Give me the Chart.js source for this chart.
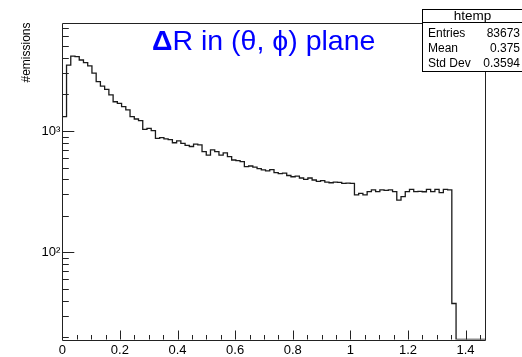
<!DOCTYPE html>
<html>
<head>
<meta charset="utf-8">
<script src="https://cdn.jsdelivr.net/npm/chart.js@4.4.0/dist/chart.umd.min.js"></script>
<style>
  html, body { margin: 0; padding: 0; background: #fff; }
  #wrap { position: relative; width: 522px; height: 357px; overflow: hidden; }
  #c { position: absolute; left: 0; top: 0; }
  #title { position: absolute; left: 152px; top: 24px; font-family: "Liberation Sans", Arial, sans-serif;
           font-size: 28.5px; color: #0000ff; white-space: nowrap; line-height: 33px; }
  #stats { position: absolute; left: 422px; top: 9px; width: 101px; height: 63px; box-sizing: border-box;
           border: 1px solid #000; background: #fff; font-family: "Liberation Sans", Arial, sans-serif; color: #000; }
  #stats .t { height: 12px; line-height: 12px; text-align: center; font-size: 13.5px; border-bottom: 1px solid #000; }
  #stats .body { padding-top: 2.5px; }
  #stats .r { display: flex; justify-content: space-between; height: 15px; line-height: 15px; font-size: 12px;
              padding: 0 2px 0 5px; }
</style>
</head>
<body>
<div id="wrap">
  <canvas id="c" width="522" height="357"></canvas>
  <div id="title"><b>Δ</b>R in (θ, ϕ) plane</div>
  <div id="stats"></div>
</div>
<script>
// ---- data ----
const histName = "htemp";
const xMin = 0;
const xMax = 1.47;
const nBins = 100;
const counts = [
  1311, 3490, 4140, 4090, 3840, 3650, 3430, 2990, 2545, 2345,
  2200, 1980, 1740, 1690, 1585, 1490, 1311, 1255, 1215, 1032,
  1052, 1006,  870,  881,  860,  850,  800,  830,  790,  760,
   745,  780,  770,  675,  634,  700,  675,  634,  660,  615,
   577,  570,  560,  509,  515,  505,  490,  478,  470,  480,
   455,  445,  450,  430,  420,  425,  410,  400,  410,  395,
   385,  390,  380,  375,  380,  378,  371,  372,  370,  298,
   307,  298,  317,  327,  317,  327,  325,  327,  317,  270,
   288,  317,  330,  317,  318,  316,  330,  317,  330,  311,
   330,  328,   38,    0,    0,    0,    0,    0,    0,    0
];
const xTickValues = [0,0.05,0.1,0.15,0.2,0.25,0.3,0.35,0.4,0.45,0.5,0.55,0.6,0.65,0.7,0.75,0.8,0.85,0.9,0.95,1,1.05,1.1,1.15,1.2,1.25,1.3,1.35,1.4,1.45];
const xTickLabels = {"0":"0","0.2":"0.2","0.4":"0.4","0.6":"0.6","0.8":"0.8","1":"1","1.2":"1.2","1.4":"1.4"};
const yTickValues = [20,30,40,50,60,70,80,90,100,200,300,400,500,600,700,800,900,1000,2000,3000,4000,5000,6000,7000];
const yTickLabels = {"100":"10²","1000":"10³"};
const yMin = 19.2;
const yMax = 7820;
const yTitle = "#emissions";
const statsRows = [["Entries","83673"],["Mean","0.375"],["Std Dev","0.3594"]];

// ---- stats box (text) ----
const sb = document.getElementById('stats');
const t = document.createElement('div'); t.className = 't'; t.textContent = histName; sb.appendChild(t);
const body = document.createElement('div'); body.className = 'body'; sb.appendChild(body);
statsRows.forEach(([k, v]) => {
  const r = document.createElement('div'); r.className = 'r';
  const a = document.createElement('span'); a.textContent = k;
  const b = document.createElement('span'); b.textContent = v;
  r.appendChild(a); r.appendChild(b); body.appendChild(r);
});

// ---- histogram as stepped line: one point per bin low edge, plus the upper edge ----
const binW = (xMax - xMin) / nBins;
const points = counts.map((c, i) => ({ x: xMin + i * binW, y: c }));
points.push({ x: xMax, y: counts[counts.length - 1] });

const FONT = '"Liberation Sans", Arial, sans-serif';
const keyOf = v => String(Math.round(v * 1000) / 1000);

// Empty bins on a log axis are drawn on the frame bottom (as ROOT does)
const emptyBinsOnFloor = {
  id: 'emptyBinsOnFloor',
  afterDatasetsUpdate(chart) {
    const meta = chart.getDatasetMeta(0);
    const ys = chart.scales.y;
    const floor = ys.getPixelForValue(ys.min);
    meta.data.forEach((p, i) => {
      if (points[i] && points[i].y === 0) { p.y = floor; p.skip = false; }
    });
    meta.dataset.points = meta.data;
  }
};

const rootTicks = {
  id: 'rootTicks',
  afterDatasetsDraw(chart) {
    const { ctx, chartArea: a, scales: { x, y } } = chart;
    ctx.save();
    ctx.strokeStyle = '#222';
    ctx.lineWidth = 1;
    ctx.beginPath();
    x.ticks.forEach(tk => {
      const px = Math.round(x.getPixelForValue(tk.value)) + 0.5;
      const len = xTickLabels[keyOf(tk.value)] !== undefined ? 9 : 4.5;
      ctx.moveTo(px, a.bottom); ctx.lineTo(px, a.bottom - len);
    });
    y.ticks.forEach(tk => {
      const py = Math.round(y.getPixelForValue(tk.value)) + 0.5;
      const len = yTickLabels[keyOf(tk.value)] !== undefined ? 12 : 6.5;
      ctx.moveTo(a.left, py); ctx.lineTo(a.left + len, py);
    });
    ctx.stroke();
    ctx.beginPath();
    ctx.rect(Math.round(a.left) + 0.5, Math.round(a.top) + 0.5, Math.round(a.right - a.left), Math.round(a.bottom - a.top));
    ctx.stroke();
    ctx.restore();
  }
};

new Chart(document.getElementById('c'), {
  type: 'line',
  data: {
    datasets: [{
      data: points,
      stepped: 'before',
      borderColor: '#1a1a1a',
      borderWidth: 1.3,
      pointRadius: 0,
      fill: false,
      tension: 0
    }]
  },
  options: {
    responsive: false,
    animation: false,
    events: [],
    layout: { padding: { top: 22.5, right: 36.3, left: 0, bottom: 0 } },
    plugins: { legend: { display: false }, tooltip: { enabled: false }, title: { display: false } },
    scales: {
      x: {
        type: 'linear',
        min: xMin, max: xMax,
        grid: { display: false, drawTicks: false },
        border: { display: false },
        afterBuildTicks: s => { s.ticks = xTickValues.map(v => ({ value: v })); },
        afterFit: s => { s.height = 17.5; },
        ticks: {
          autoSkip: false, maxRotation: 0, includeBounds: false, padding: 3,
          color: '#000', font: { family: FONT, size: 13 },
          callback: v => xTickLabels[keyOf(v)] || ''
        }
      },
      y: {
        type: 'logarithmic',
        min: yMin, max: yMax,
        grid: { display: false, drawTicks: false },
        border: { display: false },
        afterBuildTicks: s => { s.ticks = yTickValues.map(v => ({ value: v })); },
        afterFit: s => { s.width = 62.3; },
        title: { display: true, text: yTitle, align: 'end', color: '#000',
                 font: { family: FONT, size: 12 }, padding: { top: 19, bottom: 0 } },
        ticks: {
          autoSkip: false, padding: 2,
          color: '#000', font: { family: FONT, size: 13 },
          callback: v => yTickLabels[keyOf(v)] || ''
        }
      }
    }
  },
  plugins: [emptyBinsOnFloor, rootTicks]
});
</script>
</body>
</html>
